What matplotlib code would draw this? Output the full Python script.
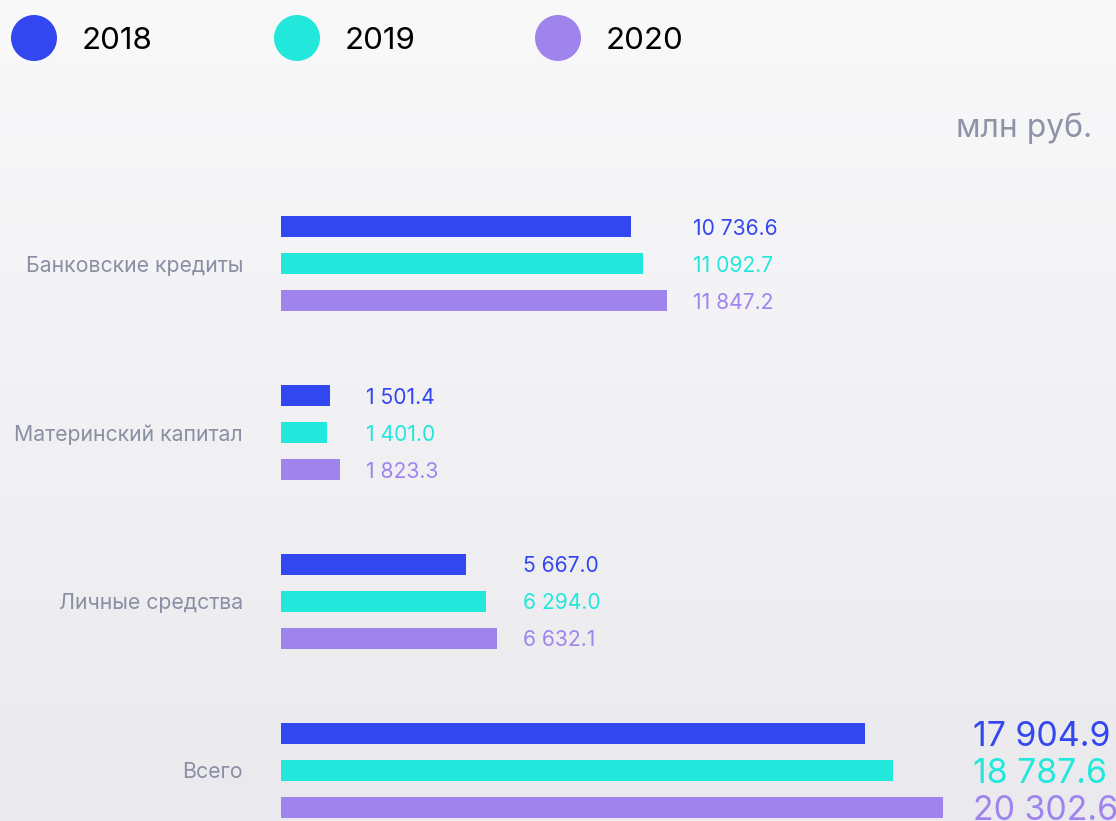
import matplotlib
matplotlib.use("Agg")
import matplotlib.pyplot as plt
import numpy as np
from matplotlib.patches import Ellipse

categories = ["Банковские кредиты", "Материнский капитал", "Личные средства", "Всего"]
years = ["2018", "2019", "2020"]
v2018 = [10736.6, 1501.4, 5667.0, 17904.9]
v2019 = [11092.7, 1401.0, 6294.0, 18787.6]
v2020 = [11847.2, 1823.3, 6632.1, 20302.6]
colors = ["#3347f0", "#22e8dc", "#9f84ee"]
unit = "млн руб."

plt.rcParams['font.family'] = ['Inter', 'DejaVu Sans']

W, H = 1116, 821
fig = plt.figure(figsize=(W / 100, H / 100), dpi=100)

# background gradient
bg = fig.add_axes([0, 0, 1, 1])
grad = np.linspace(0, 1, 256).reshape(-1, 1)
top = np.array([0xf9, 0xf9, 0xfa]) / 255
bot = np.array([0xea, 0xea, 0xee]) / 255
img = top[None, None, :] * (1 - grad[:, :, None]) + bot[None, None, :] * grad[:, :, None]
bg.imshow(img, aspect='auto', extent=[0, 1, 0, 1])
bg.set_xlim(0, 1); bg.set_ylim(0, 1)
bg.axis('off')

# main axes: x=0 at pixel 281, scale 0.0326 px/unit
x0 = 281
scale = 0.0326
ax = fig.add_axes([x0 / W, 0, 1 - x0 / W, 1])
ax.set_xlim(0, (W - x0) / scale)
spacing = 168.7
ytop = -264 / spacing
ax.set_ylim(ytop + H / spacing, ytop)
ax.axis('off')
ax.patch.set_alpha(0)

off = 37 / spacing
bh = 21 / spacing
series = [v2018, v2019, v2020]
for i, cat in enumerate(categories):
    total = (i == len(categories) - 1)
    gmax = max(s[i] for s in series)
    for j, s in enumerate(series):
        y = i + (j - 1) * off
        ax.barh(y, s[i], height=bh, color=colors[j], linewidth=0)
        lx = gmax + (30 if total else 26) / scale
        txt = f"{s[i]:,.1f}".replace(",", " ")
        ax.text(lx, y, txt, color=colors[j], va='center_baseline', ha='left',
                fontsize=24.4 if total else 15.2)
    fig.text(243 / W, 1 - (264 + i * spacing) / H, cat, ha='right', va='center_baseline',
             color='#8a8fa3', fontsize=15.3)

# legend
leg_x = [34, 297, 558]
for j, yr in enumerate(years):
    bg.add_patch(Ellipse((leg_x[j] / W, 1 - 38 / H), 46 / W, 46 / H,
                         color=colors[j], linewidth=0))
    fig.text((leg_x[j] + 48) / W, 1 - 38 / H, yr, ha='left', va='center_baseline',
             fontsize=22.5, color='black')

fig.text(1092 / W, 1 - 125 / H, unit, ha='right', va='center_baseline',
         fontsize=22.9, color='#8e93a8')

fig.savefig("out.png", dpi=100)
